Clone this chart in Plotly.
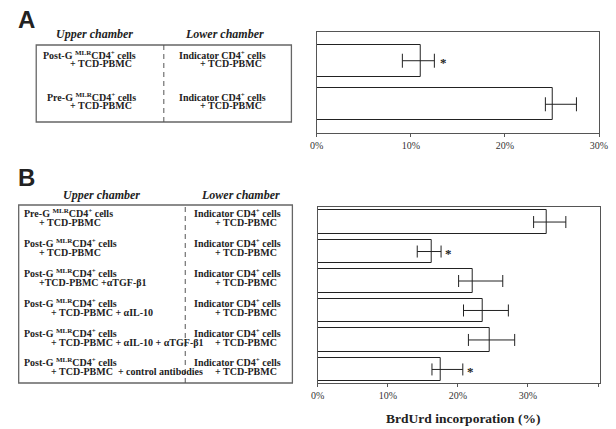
import plotly.graph_objects as go

W, H = 616, 429

# ---------------- data ----------------
A_categories = ["Post-G MLR CD4+ + TCD-PBMC", "Pre-G MLR CD4+ + TCD-PBMC"]
A_values = [11.0, 25.1]
A_err_plus = [1.5, 2.5]
A_err_minus = [1.9, 0.8]
A_star = [True, False]

B_categories = ["Pre-G", "Post-G", "Post-G + aTGF-b1", "Post-G + aIL-10",
                "Post-G + aIL-10 + aTGF-b1", "Post-G + control antibodies"]
B_values = [32.6, 16.3, 22.1, 23.5, 24.6, 17.6]
B_err_plus = [2.8, 1.3, 4.3, 3.7, 3.5, 3.1]
B_err_minus = [1.8, 2.1, 2.0, 2.7, 3.1, 1.3]
B_star = [False, True, False, False, False, True]

A_tick_vals = [0, 10, 20, 30]
A_tick_text = ["0%", "10%", "20%", "30%"]
B_tick_vals = [0, 10, 20, 30, 40]
B_tick_text = ["0%", "10%", "20%", "30%", ""]

SUP = "Post-G <sup>MLR</sup>CD4<sup>+</sup> cells"
PRE = "Pre-G <sup>MLR</sup>CD4<sup>+</sup> cells"
IND = "Indicator CD4<sup>+</sup> cells"
TCD = "+ TCD-PBMC"

A_upper_line1 = [SUP, PRE]
A_upper_line2 = [TCD, TCD]
B_upper_line1 = [PRE, SUP, SUP, SUP, SUP, SUP]
B_upper_line2 = ["+ TCD-PBMC", "+ TCD-PBMC", "+TCD-PBMC +αTGF-β1",
                 "+ TCD-PBMC + αIL-10", "+ TCD-PBMC + αIL-10 + αTGF-β1",
                 "+ TCD-PBMC  + control antibodies"]

# ---------------- helpers ----------------
def fx(x):
    return x / W

def fy(y):
    return 1 - y / H

SERIF = "Liberation Serif"
TXT = "#222222"

fig = go.Figure()

fig.add_trace(go.Bar(
    x=A_values, y=A_categories, orientation="h",
    marker=dict(color="white", line=dict(color="#222", width=1)),
    width=0.73,
    error_x=dict(type="data", symmetric=False, array=A_err_plus,
                 arrayminus=A_err_minus, color="#222", thickness=1, width=7),
    xaxis="x", yaxis="y", showlegend=False))

fig.add_trace(go.Bar(
    x=B_values, y=B_categories, orientation="h",
    marker=dict(color="white", line=dict(color="#222", width=1)),
    width=0.8,
    error_x=dict(type="data", symmetric=False, array=B_err_plus,
                 arrayminus=B_err_minus, color="#222", thickness=1, width=6),
    xaxis="x2", yaxis="y2", showlegend=False))

axis_common = dict(showline=True, mirror=True, linecolor="#555", linewidth=1,
                   showgrid=False, zeroline=False, ticks="outside", ticklen=3,
                   tickcolor="#555", ticklabeloverflow="allow",
                   tickfont=dict(family=SERIF, size=10, color="#333"))

fig.update_layout(
    width=W, height=H,
    margin=dict(l=0, r=0, t=0, b=0),
    paper_bgcolor="white", plot_bgcolor="white",
    bargap=0,
    xaxis=dict(domain=[fx(318), fx(608)], range=[0, 30.02], anchor="y",
               tickvals=A_tick_vals, ticktext=A_tick_text, **axis_common),
    yaxis=dict(domain=[fy(133), fy(32)], anchor="x", type="category",
               categoryarray=A_categories, range=[1.66, -0.66],
               showticklabels=False, showline=True, mirror=True,
               linecolor="#555", linewidth=1, ticks="", showgrid=False),
    xaxis2=dict(domain=[fx(319), fx(609)], range=[0, 40.3], anchor="y2",
                tickvals=B_tick_vals, ticktext=B_tick_text, **axis_common),
    yaxis2=dict(domain=[fy(383), fy(207)], anchor="x2", type="category",
                categoryarray=B_categories, range=[5.46, -0.51],
                showticklabels=False, showline=True, mirror=True,
                linecolor="#555", linewidth=1, ticks="", showgrid=False),
)

ann = []

# stars
for c, v, e, s in zip(A_categories, A_values, A_err_plus, A_star):
    if s:
        ann.append(dict(x=v + e, y=c, xref="x", yref="y", text="<b>*</b>",
                        showarrow=False, xanchor="left", xshift=4, yshift=-2,
                        font=dict(family=SERIF, size=13, color="#222")))
for c, v, e, s in zip(B_categories, B_values, B_err_plus, B_star):
    if s:
        ann.append(dict(x=v + e, y=c, xref="x2", yref="y2", text="<b>*</b>",
                        showarrow=False, xanchor="left", xshift=2, yshift=-2,
                        font=dict(family=SERIF, size=13, color="#222")))

def txt(x, y, text, anchor="center", size=10, bold=True, italic=False,
        family=SERIF, yanchor="middle"):
    t = text
    if italic:
        t = "<i>" + t + "</i>"
    if bold:
        t = "<b>" + t + "</b>"
    ann.append(dict(x=fx(x), y=fy(y), xref="paper", yref="paper", text=t,
                    showarrow=False, xanchor=anchor, yanchor=yanchor,
                    font=dict(family=family, size=size, color=TXT)))

def line(x, ycenter, text, anchor, size=10):
    # anchor text box bottom so superscripts don't shift the baseline
    txt(x, ycenter + 0.55 * size, text, anchor=anchor, size=size, yanchor="bottom")

# panel letters
txt(20, 20, "A", size=24, family="Liberation Sans")
txt(20, 177, "B", size=24, family="Liberation Sans")

# headers
txt(90, 34, "Upper chamber", size=12, italic=True)
txt(223, 34, "Lower chamber", size=12, italic=True)
txt(97, 195, "Upper chamber", size=12, italic=True)
txt(240, 195, "Lower chamber", size=12, italic=True)

# table A text
A_rows_y = [57, 99]
for i, y in enumerate(A_rows_y):
    line(134, y, A_upper_line1[i], "right")
    line(130, y + 9, A_upper_line2[i], "right")
    line(268, y, IND, "right")
    line(264, y + 9, TCD, "right")

# table B text
B_rows_y = [215, 245, 275, 305, 335, 364]
B_line2_x = [31, 31, 31, 43, 43, 43]
for i, y in enumerate(B_rows_y):
    line(15, y, B_upper_line1[i], "left")
    line(B_line2_x[i], y + 9, B_upper_line2[i], "left")
    line(283, y, IND, "right")
    line(279, y + 9, TCD, "right")

# axis title
txt(469, 418, "BrdUrd incorporation (%)", size=13.5)

fig.update_layout(annotations=ann)

# table shapes
shapes = [
    dict(type="rect", xref="paper", yref="paper", x0=fx(30), x1=fx(292),
         y0=fy(122), y1=fy(45), line=dict(color="#666", width=1.3)),
    dict(type="line", xref="paper", yref="paper", x0=fx(161), x1=fx(161),
         y0=fy(122), y1=fy(45), line=dict(color="#555", width=1, dash="5px,4px")),
    dict(type="rect", xref="paper", yref="paper", x0=fx(12), x1=fx(293),
         y0=fy(383), y1=fy(205), line=dict(color="#666", width=1.3)),
    dict(type="line", xref="paper", yref="paper", x0=fx(183), x1=fx(183),
         y0=fy(383), y1=fy(205), line=dict(color="#555", width=1, dash="5px,4px")),
]
fig.update_layout(shapes=shapes)

fig.write_html("out.html",
               config={"displayModeBar": False},
               post_script="document.body.style.margin='0';"
                           "document.body.style.overflow='hidden';")
